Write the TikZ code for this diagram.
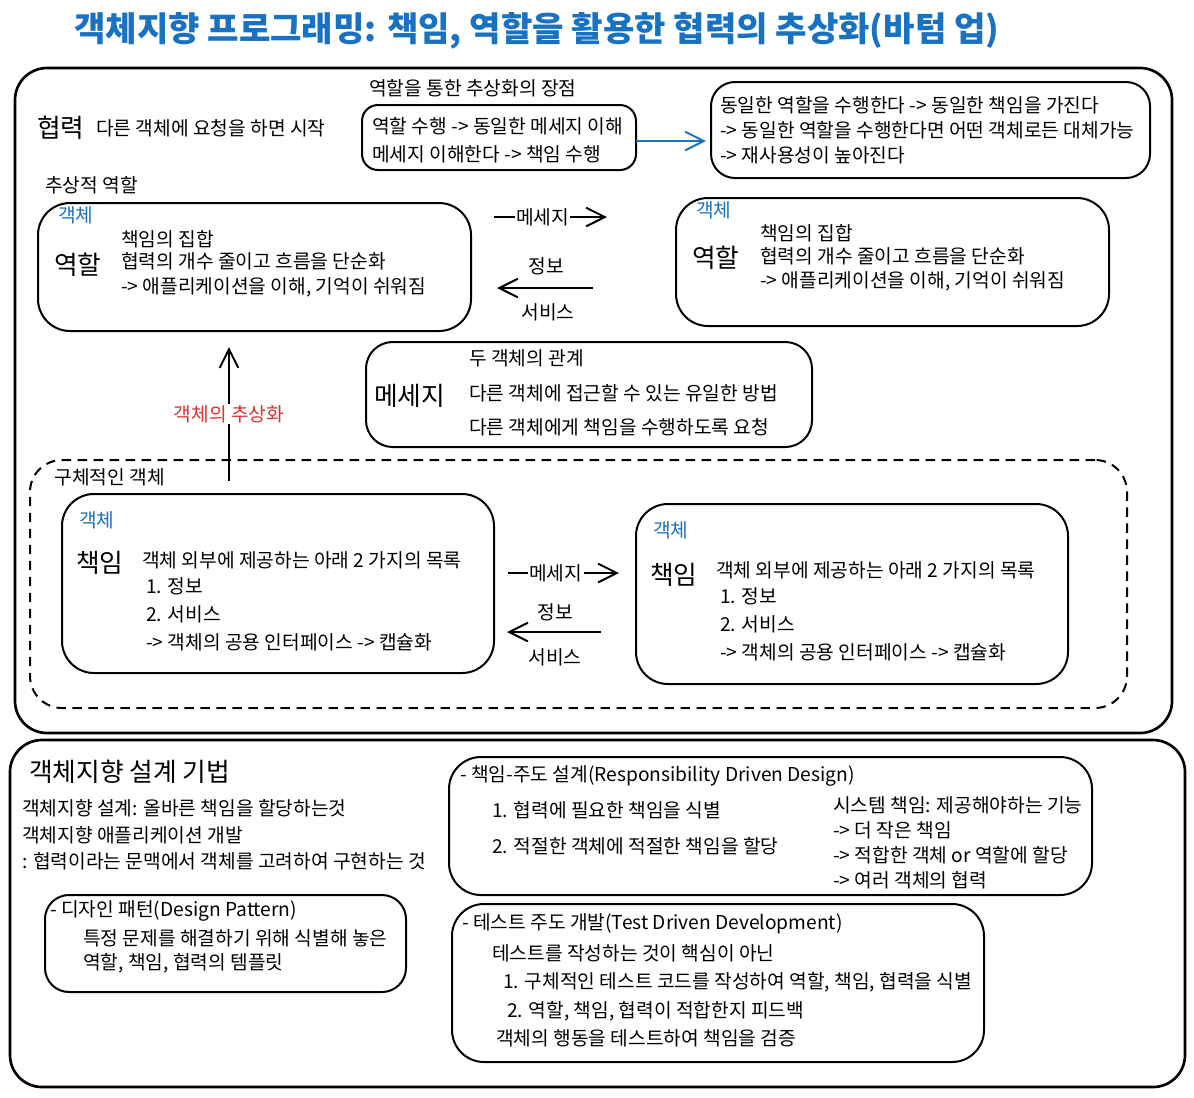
\documentclass[tikz,border=0pt]{standalone}
\usepackage{fontspec}
\setmainfont{Noto Sans CJK KR}
\usetikzlibrary{arrows.meta,fit}
\definecolor{exblue}{HTML}{1971C2}
\definecolor{exred}{HTML}{E03131}
\tikzset{
  box/.style={draw, line width=1.5pt, rounded corners=#1, inner sep=0pt},
  box/.default=18pt,
  t/.style={anchor=west, inner sep=0pt, font=\fontsize{14.4}{17}\selectfont},
  big/.style={anchor=west, inner sep=0pt, font=\fontsize{19.3}{21}\selectfont},
  obj/.style={t, text=exblue},
  arr/.style={line width=1.5pt, -{Straight Barb[length=14pt,width=14pt]}},
  lbl/.style={fill=white, inner sep=1pt, font=\fontsize{14.4}{17}\selectfont},
}
\begin{document}
\begin{tikzpicture}[x=0.75pt,y=-0.75pt]
\useasboundingbox (0,0) rectangle (1194,1097);
\fill[white] (0,0) rectangle (1194,1097);

% title
\node[anchor=west, inner sep=0pt, text=exblue, font=\fontsize{25.6}{28}\selectfont\bfseries] (title) at (74,31) {객체지향 프로그래밍: 책임, 역할을 활용한 협력의 추상화(바텀 업)};

% outer boxes
\node[box=24pt, line width=2pt, fit={(15,68) (1172,733)}] (top) {};
\node[box=24pt, line width=2pt, fit={(10,740) (1185,1087)}] (bottom) {};

% 협력
\node[big] (hyup) at (37,128) {협력};
\node[t] (hyupt) at (96,128) {다른 객체에 요청을 하면 시작};

% advantages
\node[t] (advtitle) at (369,88) {역할을 통한 추상화의 장점};
\node[box=12pt, fit={(362,105) (636,170)}] (A) {};
\node[t] (a1) at (372,126) {역할 수행 -> 동일한 메세지 이해};
\node[t] (a2) at (372,154) {메세지 이해한다 -> 책임 수행};
\node[box=18pt, fit={(711,82) (1150,178)}] (B) {};
\node[t] (b1) at (720,105) {동일한 역할을 수행한다 -> 동일한 책임을 가진다};
\node[t] (b2) at (720,130) {-> 동일한 역할을 수행한다면 어떤 객체로든 대체가능};
\node[t] (b3) at (720,155) {-> 재사용성이 높아진다};
\coordinate (abs) at (636,141);
\coordinate (abe) at (706,141);
\draw[arr, exblue] (abs) -- (abe);

% abstract roles
\node[t] (abstitle) at (45,185) {추상적 역할};
\node[box=24pt, fit={(38,203) (471,331)}] (C) {};
\node[obj] (c0) at (58,215) {객체};
\node[big] (c1) at (54,265) {역할};
\node[t] (c2) at (121,239) {책임의 집합};
\node[t] (c3) at (121,261) {협력의 개수 줄이고 흐름을 단순화};
\node[t] (c4) at (121,287) {-> 애플리케이션을 이해, 기억이 쉬워짐};

\node[box=24pt, fit={(676,198) (1109,326)}] (D) {};
\node[obj] (d0) at (696,210) {객체};
\node[big] (d1) at (692,258) {역할};
\node[t] (d2) at (760,233) {책임의 집합};
\node[t] (d3) at (760,256) {협력의 개수 줄이고 흐름을 단순화};
\node[t] (d4) at (760,281) {-> 애플리케이션을 이해, 기억이 쉬워짐};

\coordinate (m1s) at (494,217);
\coordinate (m1e) at (607,217);
\draw[arr] (m1s) -- node[lbl, pos=0.43] (m1l) {메세지} (m1e);
\coordinate (r1s) at (593,288);
\coordinate (r1e) at (497,288);
\draw[arr] (r1s) -- (r1e);
\node[lbl] (r1a) at (546,266) {정보};
\node[lbl] (r1b) at (548,312) {서비스};

% message box
\node[box=20pt, fit={(366,342) (812,447)}] (E) {};
\node[big] (e0) at (374,396) {메세지};
\node[t] (e1) at (469,358) {두 객체의 관계};
\node[t] (e2) at (469,393) {다른 객체에 접근할 수 있는 유일한 방법};
\node[t] (e3) at (469,427) {다른 객체에게 책임을 수행하도록 요청};

% abstraction arrow
\coordinate (ups) at (229,481);
\coordinate (upe) at (229,347);
\draw[arr] (ups) -- node[lbl, text=exred, pos=0.5] (upl) {객체의 추상화} (upe);

% concrete objects
\node[box=24pt, dashed, dash pattern=on 7pt off 5pt, fit={(30,460) (1127,708)}] (conc) {};
\node[t, fill=white, inner sep=1pt] (conct) at (53,477) {구체적인 객체};

\node[box=24pt, fit={(62,494) (494,673)}] (F) {};
\node[obj] (f0) at (79,520) {객체};
\node[big] (f1) at (76,563) {책임};
\node[t] (f2) at (142,560) {객체 외부에 제공하는 아래 2 가지의 목록};
\node[t] (f3) at (146,586) {1. 정보};
\node[t] (f4) at (146,614) {2. 서비스};
\node[t] (f5) at (146,642) {-> 객체의 공용 인터페이스 -> 캡슐화};

\node[box=24pt, fit={(636,504) (1068,684)}] (G) {};
\node[obj] (g0) at (653,530) {객체};
\node[big] (g1) at (650,575) {책임};
\node[t] (g2) at (716,570) {객체 외부에 제공하는 아래 2 가지의 목록};
\node[t] (g3) at (720,596) {1. 정보};
\node[t] (g4) at (720,624) {2. 서비스};
\node[t] (g5) at (720,652) {-> 객체의 공용 인터페이스 -> 캡슐화};

\coordinate (m2s) at (508,573);
\coordinate (m2e) at (619,573);
\draw[arr] (m2s) -- node[lbl, pos=0.43] (m2l) {메세지} (m2e);
\coordinate (r2s) at (601,632);
\coordinate (r2e) at (507,632);
\draw[arr] (r2s) -- (r2e);
\node[lbl] (r2a) at (555,612) {정보};
\node[lbl] (r2b) at (555,657) {서비스};

% bottom section
\node[big] (bt) at (29,772) {객체지향 설계 기법};
\node[t] (bt1) at (22,808) {객체지향 설계: 올바른 책임을 할당하는것};
\node[t] (bt2) at (22,835) {객체지향 애플리케이션 개발};
\node[t] (bt3) at (22,861) {: 협력이라는 문맥에서 객체를 고려하여 구현하는 것};

\node[box=18pt, fit={(45,895) (406,992)}] (H) {};
\node[t] (h1) at (50,911) {- 디자인 패턴(Design Pattern)};
\node[t] (h2) at (83,938) {특정 문제를 해결하기 위해 식별해 놓은};
\node[t] (h3) at (83,963) {역할, 책임, 협력의 템플릿};

\node[box=24pt, fit={(449,757) (1092,895)}] (I) {};
\node[t] (i1) at (460,776) {- 책임-주도 설계(Responsibility Driven Design)};
\node[t] (i2) at (492,810) {1. 협력에 필요한 책임을 식별};
\node[t] (i3) at (492,846) {2. 적절한 객체에 적절한 책임을 할당};
\node[t] (i4) at (833,805) {시스템 책임: 제공해야하는 기능};
\node[t] (i5) at (833,830) {-> 더 작은 책임};
\node[t] (i6) at (833,855) {-> 적합한 객체 or 역할에 할당};
\node[t] (i7) at (833,880) {-> 여러 객체의 협력};

\node[box=24pt, fit={(452,904) (984,1062)}] (J) {};
\node[t] (j1) at (462,924) {- 테스트 주도 개발(Test Driven Development)};
\node[t] (j2) at (492,953) {테스트를 작성하는 것이 핵심이 아닌};
\node[t] (j3) at (503,982) {1. 구체적인 테스트 코드를 작성하여 역할, 책임, 협력을 식별};
\node[t] (j4) at (507,1011) {2. 역할, 책임, 협력이 적합한지 피드백};
\node[t] (j5) at (496,1038) {객체의 행동을 테스트하여 책임을 검증};
\end{tikzpicture}
\end{document}
